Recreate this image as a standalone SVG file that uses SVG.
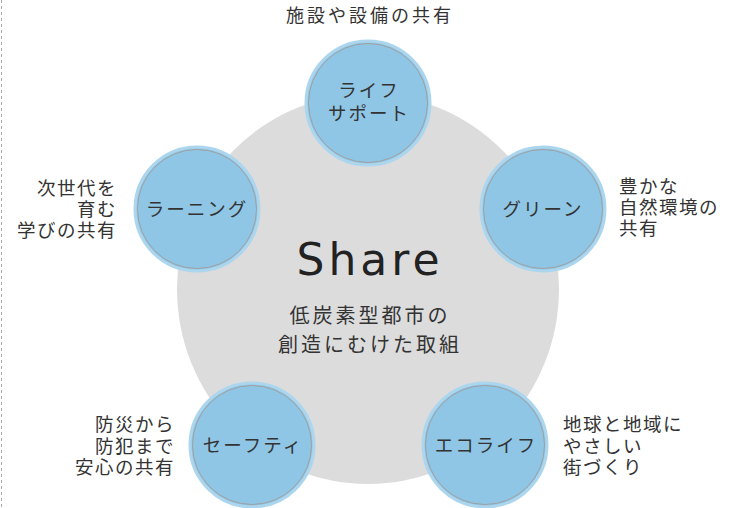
<svg xmlns="http://www.w3.org/2000/svg" width="740" height="508" viewBox="0 0 740 508">
<style>
.t{font-family:"Noto Sans CJK JP","Liberation Sans",sans-serif;font-size:18.5px;fill:#333;letter-spacing:1.5px}
.c{text-anchor:middle}
.r{text-anchor:end}
.ball{fill:#8fc6e6;stroke:#acd6ee;stroke-width:3}
.ring{fill:none;stroke:#a0a0a0;stroke-width:1}
</style>
<rect width="740" height="508" fill="#fff"/>
<line x1="1.5" y1="0" x2="1.5" y2="508" stroke="#aaa" stroke-width="1" stroke-dasharray="3 3"/>
<g id="center">
<ellipse cx="368" cy="289" rx="191" ry="195" fill="#dcdcdc"/>
<text x="370" y="275" text-anchor="middle" style="font-family:'DejaVu Sans',sans-serif;font-size:44px;fill:#222;letter-spacing:4px">Share</text>
<text class="t c" x="370" y="323" style="font-size:20px;letter-spacing:3px">低炭素型都市の</text>
<text class="t c" x="370" y="352" style="font-size:20px;letter-spacing:3px">創造にむけた取組</text>
</g>
<g id="connectors"></g>
<g id="life">
<circle class="ball" cx="368" cy="103" r="62"/>
<circle class="ring" cx="368" cy="103" r="59.5"/>
<text class="t c" x="369" y="97" style="letter-spacing:2px">ライフ</text>
<text class="t c" x="369" y="120" style="letter-spacing:2px">サポート</text>
<text class="t c" x="370" y="22" style="font-size:18px;letter-spacing:3px">施設や設備の共有</text>
</g>
<g id="learning">
<circle class="ball" cx="197" cy="209" r="62"/>
<circle class="ring" cx="197" cy="209" r="59.5"/>
<text class="t c" x="197" y="216" style="letter-spacing:2px">ラーニング</text>
<text class="t r" x="117" y="195">次世代を</text>
<text class="t r" x="117" y="216">育む</text>
<text class="t r" x="117" y="237">学びの共有</text>
</g>
<g id="green">
<circle class="ball" cx="543" cy="209" r="62"/>
<circle class="ring" cx="543" cy="209" r="59.5"/>
<text class="t c" x="543" y="216" style="letter-spacing:2px">グリーン</text>
<text class="t" x="619" y="193">豊かな</text>
<text class="t" x="619" y="214">自然環境の</text>
<text class="t" x="619" y="235">共有</text>
</g>
<g id="safety">
<circle class="ball" cx="252" cy="445" r="62"/>
<circle class="ring" cx="252" cy="445" r="59.5"/>
<text class="t c" x="253" y="452" style="letter-spacing:2px">セーフティ</text>
<text class="t r" x="175" y="431">防災から</text>
<text class="t r" x="175" y="453">防犯まで</text>
<text class="t r" x="175" y="474">安心の共有</text>
</g>
<g id="ecolife">
<circle class="ball" cx="485" cy="445" r="62"/>
<circle class="ring" cx="485" cy="445" r="59.5"/>
<text class="t c" x="486" y="452" style="letter-spacing:2px">エコライフ</text>
<text class="t" x="563" y="431">地球と地域に</text>
<text class="t" x="563" y="453">やさしい</text>
<text class="t" x="563" y="474">街づくり</text>
</g>
</svg>
